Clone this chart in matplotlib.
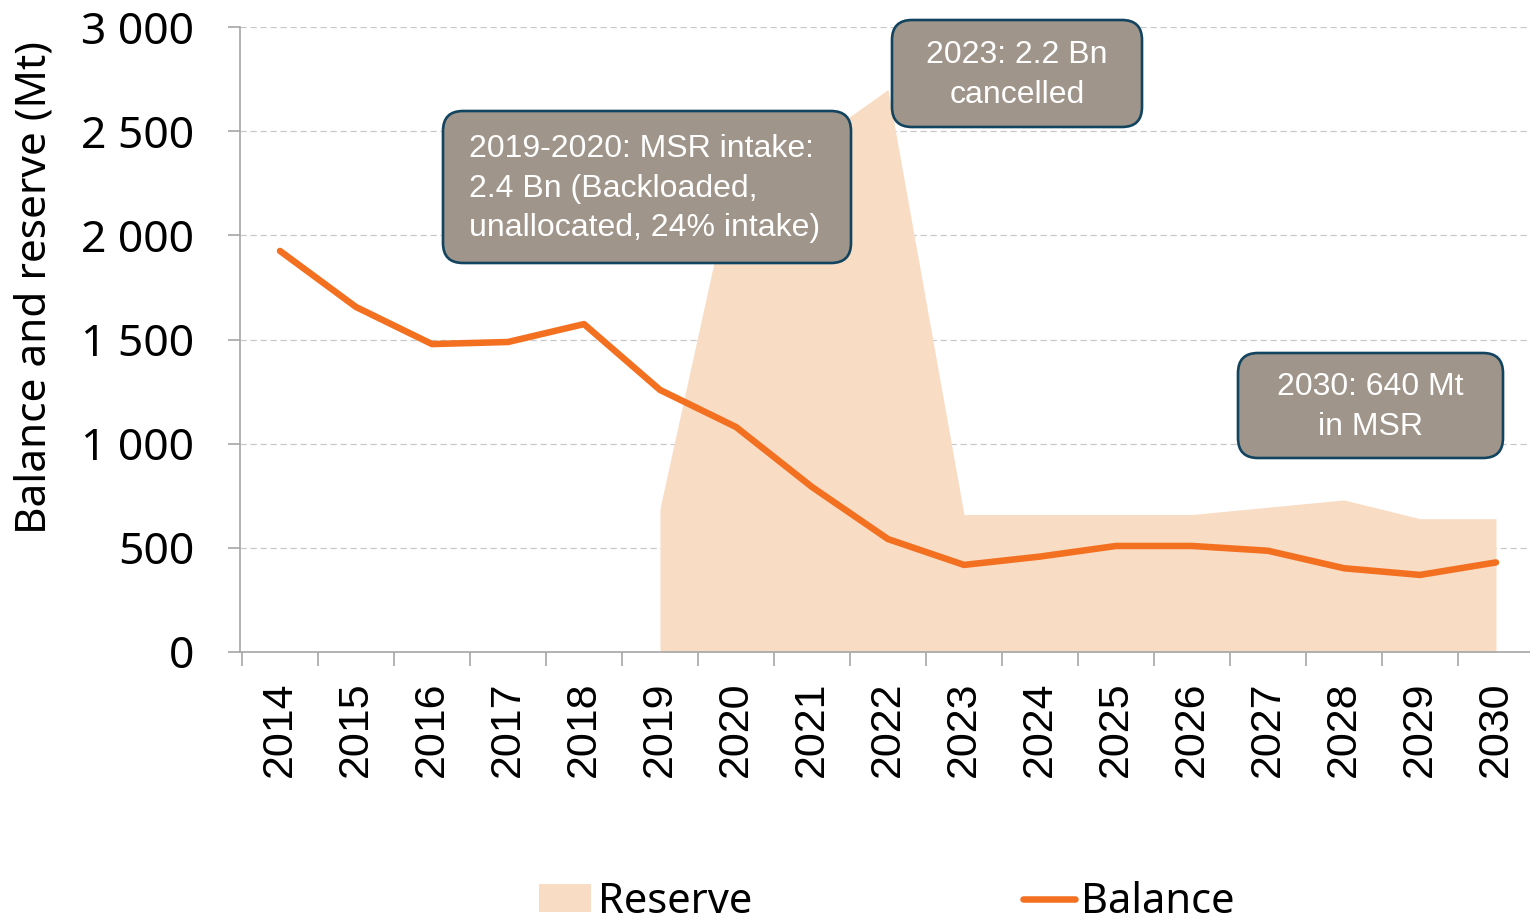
import numpy as np
import matplotlib
matplotlib.use("Agg")
import matplotlib.pyplot as plt
from matplotlib.patches import FancyBboxPatch, Patch
from matplotlib.lines import Line2D
from matplotlib.ticker import FixedLocator, FuncFormatter, NullFormatter

# data
years = list(range(2014, 2031))
reserve_years = list(range(2019, 2031))
reserve = [690, 2350, 2440, 2700, 660, 660, 660, 660, 695, 730, 640, 640]
balance = [1925, 1656, 1478, 1488, 1574, 1258, 1080, 792, 542,
           418, 458, 509, 509, 486, 402, 370, 430]
yticks = [0, 500, 1000, 1500, 2000, 2500, 3000]

area_col = "#F9DCC4"
line_col = "#F37021"
box_fill = "#A0958A"
box_edge = "#12445F"
humanist = ["Noto Sans", "DejaVu Sans"]

W, H = 1530, 922
fig = plt.figure(figsize=(W / 100, H / 100), dpi=100)
ax = fig.add_axes([240 / W, 270 / H, 1290 / W, 625 / H])

ax.fill_between(reserve_years, 0, reserve, color=area_col, lw=0, zorder=1)
ax.plot(years, balance, color=line_col, lw=4.7, solid_capstyle="round",
        solid_joinstyle="round", zorder=3)

ax.set_xlim(2014 - 40 / 76, 2014 + 1250 / 76)
ax.set_ylim(0, 3000)

# ticks at category boundaries, labels at centres
ax.xaxis.set_major_locator(FixedLocator(np.arange(2013.5, 2030.6, 1)))
ax.xaxis.set_major_formatter(NullFormatter())
ax.xaxis.set_minor_locator(FixedLocator(years))
ax.xaxis.set_minor_formatter(FuncFormatter(lambda v, p: str(int(round(v)))))
ax.tick_params(axis="x", which="major", length=10, width=1.2, color="#A6A6A6")
ax.tick_params(axis="x", which="minor", length=0, pad=21, labelsize=31,
               labelrotation=90)
for lab in ax.get_xticklabels(minor=True):
    lab.set_fontfamily("Liberation Sans")

ax.set_yticks(yticks)
ax.yaxis.set_major_formatter(FuncFormatter(lambda v, p: f"{int(v):,}".replace(",", " ")))
ax.tick_params(axis="y", length=9, width=1.2, color="#A6A6A6", pad=24,
               labelsize=32)
for lab in ax.get_yticklabels():
    lab.set_fontfamily(humanist)

ax.grid(axis="y", color="#C8C8C8", lw=0.9, ls=(0, (5, 3)), zorder=0)
ax.set_axisbelow(True)
for s in ["top", "right"]:
    ax.spines[s].set_visible(False)
for s in ["left", "bottom"]:
    ax.spines[s].set_color("#A6A6A6")
    ax.spines[s].set_linewidth(1.2)
ax.spines["bottom"].set_zorder(4)

fig.text(35 / W, 1 - 287 / H, "Balance and reserve (Mt)", rotation=90,
         ha="center", va="center", fontsize=30.5, family=humanist)

# annotation boxes (pixel coordinates, top-left origin)
def note(x0, y0, x1, y1, txt, ha, tx=None):
    p = FancyBboxPatch((x0, H - y1), x1 - x0, y1 - y0,
                       boxstyle="round,pad=0,rounding_size=20",
                       fc=box_fill, ec=box_edge, lw=1.9,
                       transform=None, zorder=10)
    fig.add_artist(p)
    if tx is None:
        tx = (x0 + x1) / 2
    fig.text(tx / W, 1 - ((y0 + y1) / 2 + 1.5) / H, txt, ha=ha, va="center",
             color="white", fontsize=23, family="Liberation Sans",
             linespacing=1.42, zorder=11)

note(443, 111, 851, 263, "2019-2020: MSR intake:\n2.4 Bn (Backloaded,\nunallocated, 24% intake)",
     "left", tx=469)
note(892, 20, 1142, 127, "2023: 2.2 Bn\ncancelled", "center")
note(1238, 353, 1503, 458, "2030: 640 Mt\nin MSR", "center")

handles = [Patch(fc=area_col, ec="none", label="Reserve"),
           Line2D([], [], color=line_col, lw=4.7, solid_capstyle="round",
                  label="Balance")]
fig.legend(handles=handles, loc="center", bbox_to_anchor=(887 / W, 20 / H),
           ncol=2, frameon=False, prop={"family": humanist, "size": 30},
           handlelength=1.25, handleheight=0.65, handletextpad=0.15,
           columnspacing=6.5, borderpad=0)

fig.savefig("out.png", dpi=100)
